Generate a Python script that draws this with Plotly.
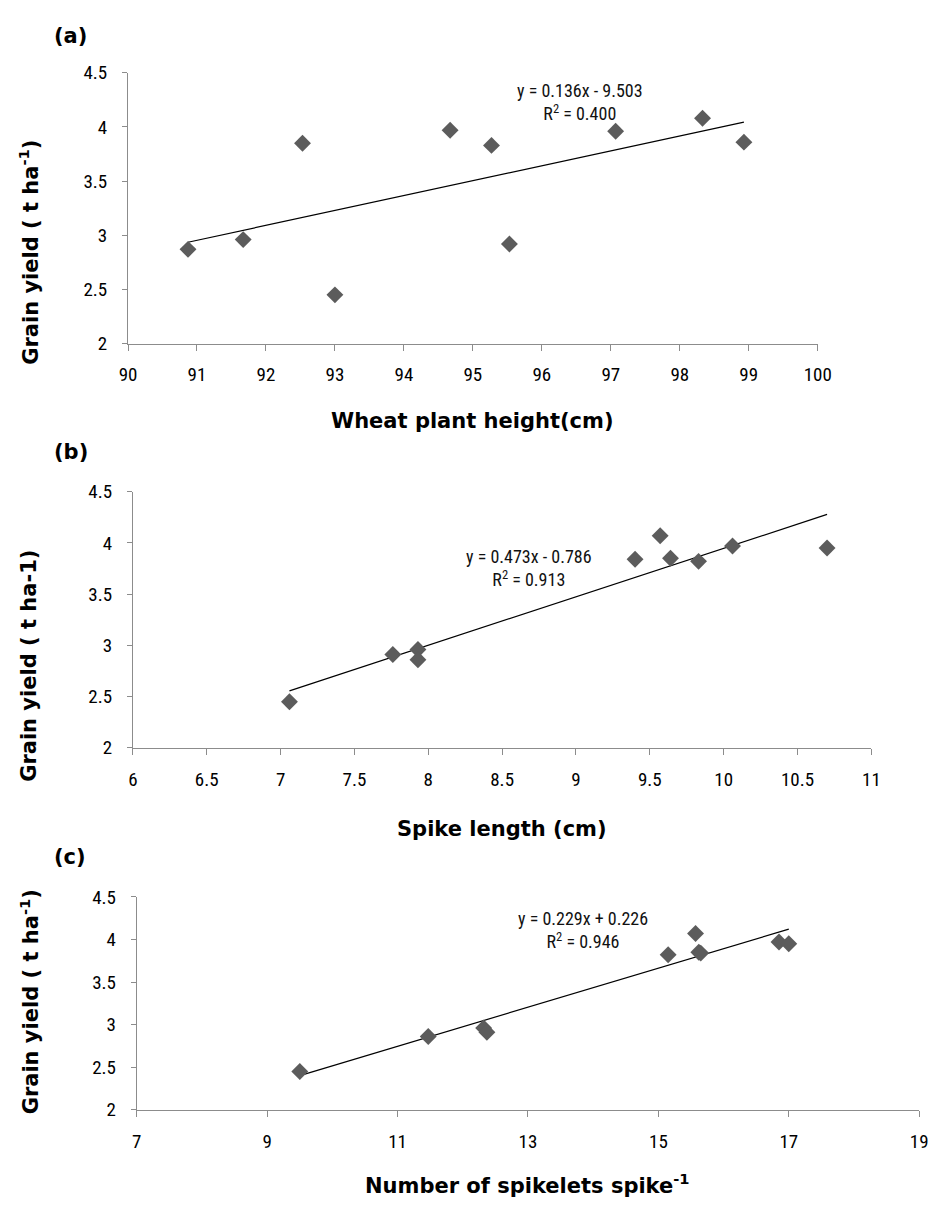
import numpy as np
import plotly.graph_objects as go

# ---- data ----
height_cm = [90.87, 91.67, 92.53, 93.00, 94.67, 95.27, 95.53, 97.07, 98.33, 98.93]
yield_a = [2.87, 2.96, 3.85, 2.45, 3.97, 3.83, 2.92, 3.96, 4.08, 3.86]

spike_len = [7.06, 7.76, 7.93, 7.93, 9.40, 9.57, 9.64, 9.83, 10.06, 10.70]
yield_b = [2.45, 2.91, 2.96, 2.86, 3.84, 4.07, 3.85, 3.82, 3.97, 3.95]

spikelets = [9.50, 11.47, 12.32, 12.37, 15.15, 15.57, 15.62, 15.65, 16.85, 17.00]
yield_c = [2.45, 2.86, 2.96, 2.91, 3.82, 4.07, 3.85, 3.84, 3.97, 3.95]

eq_text = ["y = 0.136x - 9.503", "y = 0.473x - 0.786", "y = 0.229x + 0.226"]
r2_text = ["R<sup>2</sup> = 0.400", "R<sup>2</sup> = 0.913", "R<sup>2</sup> = 0.946"]
panel_labels = ["(a)", "(b)", "(c)"]
x_titles = ["Wheat plant height(cm)", "Spike length (cm)", "Number of spikelets spike<sup>-1</sup>"]
y_titles = ["Grain yield ( t ha<sup>-1</sup>)", "Grain yield ( t ha-1)", "Grain yield ( t ha<sup>-1</sup>)"]
x_ranges = [(90, 100, 1), (6, 11, 0.5), (7, 19, 2)]
y_range = (2, 4.5, 0.5)

W, H = 940, 1214
# pixel layout of each panel: (x_left, x_right, y_top, y_bottom)
px = [(122, 829, 63, 339), (127, 884, 490, 751), (131, 933, 903, 1120)]
eq_pos = [(96.56, 4.228), (8.68, 3.753), (13.85, 4.114)]
label_y = [25, 450, 862]
xtitle_y = [418, 834, 1196]
ytitle_c = [246, 667, 1010]

fig = go.Figure()
datasets = [(height_cm, yield_a), (spike_len, yield_b), (spikelets, yield_c)]

narrow = "Liberation Sans Narrow, Arial Narrow, Roboto Condensed, Arial"
tick_font = dict(family=narrow, size=19, color="#000000")
title_font = dict(family="DejaVu Sans, Verdana", size=21, color="#000000")
eqfont = dict(family=narrow, size=18, color="#111111")

for i, (xs, ys) in enumerate(datasets):
    ax = "" if i == 0 else str(i + 1)
    xa, ya = "x" + ax, "y" + ax
    slope, intercept = np.polyfit(xs, ys, 1)
    xl = np.array([min(xs), max(xs)])
    fig.add_trace(go.Scatter(x=xl, y=slope * xl + intercept, mode="lines",
                             line=dict(color="black", width=1.2),
                             xaxis=xa, yaxis=ya, showlegend=False))
    fig.add_trace(go.Scatter(x=xs, y=ys, mode="markers",
                             marker=dict(symbol="diamond", size=13, color="#5c5c5c"),
                             xaxis=xa, yaxis=ya, showlegend=False))
    x0, x1, y0, y1 = px[i]
    xr = x_ranges[i]
    common = dict(showgrid=False, zeroline=False, showline=True, linecolor="#8c8c8c",
                  linewidth=1, ticks="outside", tickcolor="#8c8c8c", ticklen=6,
                  tickfont=tick_font)
    fig.layout["xaxis" + ax] = dict(common, domain=[x0 / W, x1 / W],
                                   range=[xr[0], xr[1]], tick0=xr[0], dtick=xr[2],
                                   anchor=ya, ticklabelstandoff=8)
    fig.layout["yaxis" + ax] = dict(common, domain=[1 - y1 / H, 1 - y0 / H],
                                   range=[y_range[0], y_range[1]], tick0=y_range[0],
                                   dtick=y_range[2], anchor=xa, ticklen=5,
                                   ticklabelstandoff=11)
    ex, ey = eq_pos[i]
    fig.add_annotation(x=ex, y=ey, xref=xa, yref=ya, text=eq_text[i] + "<br>" + r2_text[i],
                       align="center", showarrow=False, font=eqfont)
    # panel label
    fig.add_annotation(x=44 / W, y=1 - label_y[i] / H, xref="paper", yref="paper",
                       xanchor="left", yanchor="middle", text="<b>" + panel_labels[i] + "</b>",
                       showarrow=False, font=title_font)
    # x title
    fig.add_annotation(x=((x0 + x1) / 2) / W, y=1 - xtitle_y[i] / H, xref="paper", yref="paper",
                       xanchor="center", yanchor="middle", text="<b>" + x_titles[i] + "</b>",
                       showarrow=False, font=title_font)
    # y title
    fig.add_annotation(x=21 / W, y=1 - ytitle_c[i] / H, xref="paper", yref="paper",
                       xanchor="center", yanchor="middle", text="<b>" + y_titles[i] + "</b>",
                       textangle=-90, showarrow=False, font=title_font)

fig.update_layout(width=W, height=H, margin=dict(l=0, r=0, t=0, b=0),
                  paper_bgcolor="white", plot_bgcolor="white")
fig.write_html("out.html")
